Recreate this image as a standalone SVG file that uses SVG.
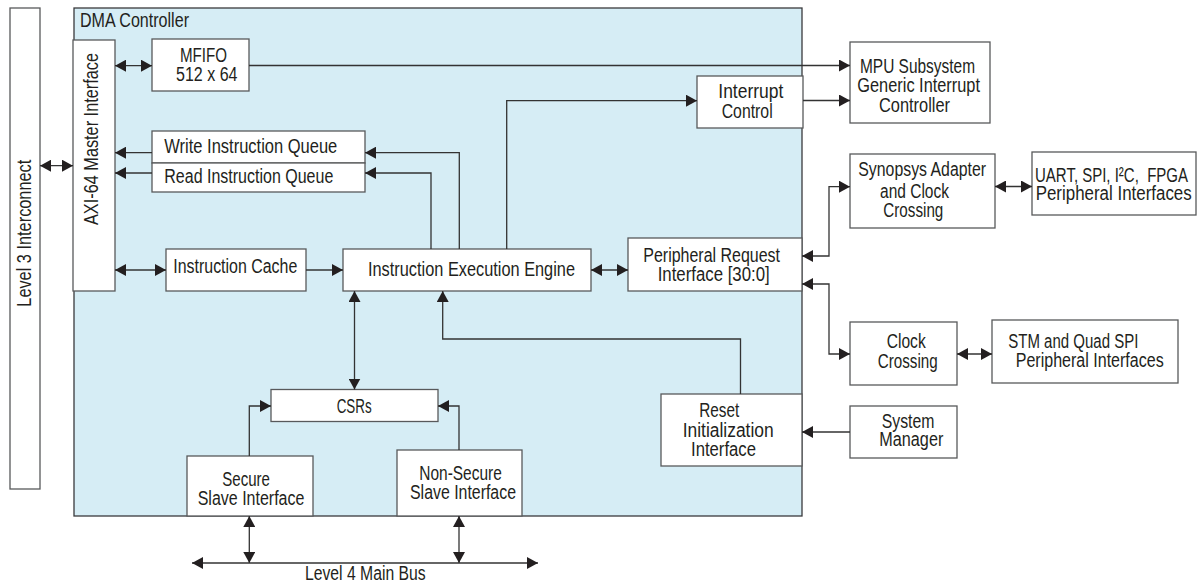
<svg xmlns="http://www.w3.org/2000/svg" width="1201" height="583" viewBox="0 0 1201 583">
<defs>
<style>
.box{fill:#fff;stroke:#58595b;stroke-width:1.3}
.t{font-family:"Liberation Sans",Arial,sans-serif;font-size:20px;fill:#231f20;white-space:pre}
.c{fill:none;stroke:#333;stroke-width:1.3}
</style>
<marker id="ah" viewBox="0 0 11 12" markerUnits="userSpaceOnUse" markerWidth="11" markerHeight="12" refX="11" refY="6" orient="auto-start-reverse">
<path d="M0,0 L11,6 L0,12 z" fill="#231f20"/>
</marker>
</defs>
<rect width="1201" height="583" fill="#fff"/>

<g id="dma">
<rect x="74" y="8" width="728" height="508" fill="#d6edf5" stroke="#3a3a3c" stroke-width="1.3"/>
<text class="t" x="80" y="27" font-size="19" textLength="109" lengthAdjust="spacingAndGlyphs">DMA Controller</text>
</g>

<g id="l3">
<rect class="box" x="10" y="8" width="30" height="481"/>
<text class="t" transform="translate(31,306.7) rotate(-90)" textLength="147" lengthAdjust="spacingAndGlyphs">Level 3 Interconnect</text>
</g>

<g id="axi">
<rect class="box" x="73" y="40" width="42" height="251"/>
<text class="t" transform="translate(98,225) rotate(-90)" textLength="172" lengthAdjust="spacingAndGlyphs">AXI-64 Master Interface</text>
</g>

<g id="mfifo">
<rect class="box" x="152" y="39" width="97" height="52"/>
<text class="t" x="180" y="62" textLength="47" lengthAdjust="spacingAndGlyphs">MFIFO</text>
<text class="t" x="176" y="81" textLength="61.5" lengthAdjust="spacingAndGlyphs">512 x 64</text>
</g>

<g id="wiq">
<rect class="box" x="152" y="131" width="213" height="32"/>
<text class="t" x="164.3" y="152.5" textLength="173" lengthAdjust="spacingAndGlyphs">Write Instruction Queue</text>
</g>

<g id="riq">
<rect class="box" x="152" y="163" width="213" height="29"/>
<text class="t" x="164.3" y="182.5" textLength="169" lengthAdjust="spacingAndGlyphs">Read Instruction Queue</text>
</g>

<g id="icache">
<rect class="box" x="166" y="249" width="140" height="42"/>
<text class="t" x="173.3" y="273" textLength="124" lengthAdjust="spacingAndGlyphs">Instruction Cache</text>
</g>

<g id="engine">
<rect class="box" x="343" y="249" width="248" height="42"/>
<text class="t" x="368" y="276" textLength="207" lengthAdjust="spacingAndGlyphs">Instruction Execution Engine</text>
</g>

<g id="pri">
<rect class="box" x="628" y="238" width="174" height="53"/>
<text class="t" x="643.3" y="261.5" textLength="136.7" lengthAdjust="spacingAndGlyphs">Peripheral Request</text>
<text class="t" x="657.7" y="280.5" textLength="112" lengthAdjust="spacingAndGlyphs">Interface [30:0]</text>
</g>

<g id="intctrl">
<rect class="box" x="697" y="76" width="106" height="52"/>
<text class="t" x="718.3" y="98.3" textLength="65" lengthAdjust="spacingAndGlyphs">Interrupt</text>
<text class="t" x="721.7" y="117.5" textLength="51" lengthAdjust="spacingAndGlyphs">Control</text>
</g>

<g id="mpu">
<rect class="box" x="850" y="42" width="140" height="81"/>
<text class="t" x="860" y="72.7" textLength="115" lengthAdjust="spacingAndGlyphs">MPU Subsystem</text>
<text class="t" x="857.3" y="91.7" textLength="122.7" lengthAdjust="spacingAndGlyphs">Generic Interrupt</text>
<text class="t" x="879" y="111.7" textLength="71" lengthAdjust="spacingAndGlyphs">Controller</text>
</g>

<g id="synopsys">
<rect class="box" x="850" y="154" width="145" height="74"/>
<text class="t" x="858.3" y="176.3" textLength="127.7" lengthAdjust="spacingAndGlyphs">Synopsys Adapter</text>
<text class="t" x="880" y="197.5" textLength="69" lengthAdjust="spacingAndGlyphs">and Clock</text>
<text class="t" x="883.3" y="217" textLength="60" lengthAdjust="spacingAndGlyphs">Crossing</text>
</g>

<g id="uart">
<rect class="box" x="1032" y="152" width="164" height="63"/>
<text class="t" x="1035" y="181.7" textLength="153" lengthAdjust="spacingAndGlyphs">UART, SPI, I²C,  FPGA</text>
<text class="t" x="1035.7" y="199.8" textLength="156" lengthAdjust="spacingAndGlyphs">Peripheral Interfaces</text>
</g>

<g id="clockx">
<rect class="box" x="850" y="322" width="107" height="63"/>
<text class="t" x="886.7" y="347.7" textLength="39" lengthAdjust="spacingAndGlyphs">Clock</text>
<text class="t" x="877.7" y="368.3" textLength="60" lengthAdjust="spacingAndGlyphs">Crossing</text>
</g>

<g id="stm">
<rect class="box" x="992" y="320" width="186" height="63"/>
<text class="t" x="1008.3" y="347.7" textLength="130" lengthAdjust="spacingAndGlyphs">STM and Quad SPI</text>
<text class="t" x="1015.7" y="367" textLength="148" lengthAdjust="spacingAndGlyphs">Peripheral Interfaces</text>
</g>

<g id="sysmgr">
<rect class="box" x="850" y="406" width="107" height="52"/>
<text class="t" x="881.7" y="427.7" textLength="52.7" lengthAdjust="spacingAndGlyphs">System</text>
<text class="t" x="879.3" y="446" textLength="64" lengthAdjust="spacingAndGlyphs">Manager</text>
</g>

<g id="reset">
<rect class="box" x="661" y="394" width="141" height="72"/>
<text class="t" x="699.3" y="417.3" textLength="40" lengthAdjust="spacingAndGlyphs">Reset</text>
<text class="t" x="682.7" y="436.7" textLength="91" lengthAdjust="spacingAndGlyphs">Initialization</text>
<text class="t" x="691" y="455.7" textLength="65" lengthAdjust="spacingAndGlyphs">Interface</text>
</g>

<g id="csrs">
<rect class="box" x="271" y="389.5" width="167" height="32"/>
<text class="t" x="336.7" y="413" textLength="35" lengthAdjust="spacingAndGlyphs">CSRs</text>
</g>

<g id="secure">
<rect class="box" x="187" y="456" width="126" height="60"/>
<text class="t" x="222.3" y="486" textLength="47.7" lengthAdjust="spacingAndGlyphs">Secure</text>
<text class="t" x="197.7" y="504.5" textLength="106.7" lengthAdjust="spacingAndGlyphs">Slave Interface</text>
</g>

<g id="nonsecure">
<rect class="box" x="397" y="450" width="125" height="66"/>
<text class="t" x="419.3" y="480" textLength="82.5" lengthAdjust="spacingAndGlyphs">Non-Secure</text>
<text class="t" x="410" y="498.5" textLength="106" lengthAdjust="spacingAndGlyphs">Slave Interface</text>
</g>

<g id="bus">
<text class="t" x="305" y="580" textLength="120.7" lengthAdjust="spacingAndGlyphs">Level 4 Main Bus</text>
</g>

<g id="connectors">
<path class="c" d="M40 165.7 H73" marker-start="url(#ah)" marker-end="url(#ah)"/>
<path class="c" d="M115 65.7 H152" marker-start="url(#ah)" marker-end="url(#ah)"/>
<path class="c" d="M249 65.5 H850" marker-end="url(#ah)"/>
<path class="c" d="M803 100.5 H850" marker-end="url(#ah)"/>
<path class="c" d="M506.7 249 V100.7 H697" marker-end="url(#ah)"/>
<path class="c" d="M459.3 249 V152.7 H365" marker-end="url(#ah)"/>
<path class="c" d="M431 249 V173 H365" marker-end="url(#ah)"/>
<path class="c" d="M152 152.7 H115" marker-end="url(#ah)"/>
<path class="c" d="M152 173 H115" marker-end="url(#ah)"/>
<path class="c" d="M115 270 H166" marker-start="url(#ah)" marker-end="url(#ah)"/>
<path class="c" d="M306 270 H343" marker-end="url(#ah)"/>
<path class="c" d="M591 270 H628" marker-start="url(#ah)" marker-end="url(#ah)"/>
<path class="c" d="M802 256 H829 V186.7 H850" marker-start="url(#ah)" marker-end="url(#ah)"/>
<path class="c" d="M802 284 H829 V354 H850" marker-start="url(#ah)" marker-end="url(#ah)"/>
<path class="c" d="M995 186.5 H1032" marker-start="url(#ah)" marker-end="url(#ah)"/>
<path class="c" d="M957 354 H992" marker-start="url(#ah)" marker-end="url(#ah)"/>
<path class="c" d="M850 432 H802" marker-end="url(#ah)"/>
<path class="c" d="M740.5 394 V339 H442.7 V291" marker-end="url(#ah)"/>
<path class="c" d="M354.5 291 V389.5" marker-start="url(#ah)" marker-end="url(#ah)"/>
<path class="c" d="M249.3 456 V406 H271" marker-end="url(#ah)"/>
<path class="c" d="M459 450 V406 H438" marker-end="url(#ah)"/>
<path class="c" d="M249.3 516 V563" marker-start="url(#ah)" marker-end="url(#ah)"/>
<path class="c" d="M459 516 V563" marker-start="url(#ah)" marker-end="url(#ah)"/>
<path class="c" d="M192 563 H538" marker-start="url(#ah)" marker-end="url(#ah)"/>
</g>
</svg>
